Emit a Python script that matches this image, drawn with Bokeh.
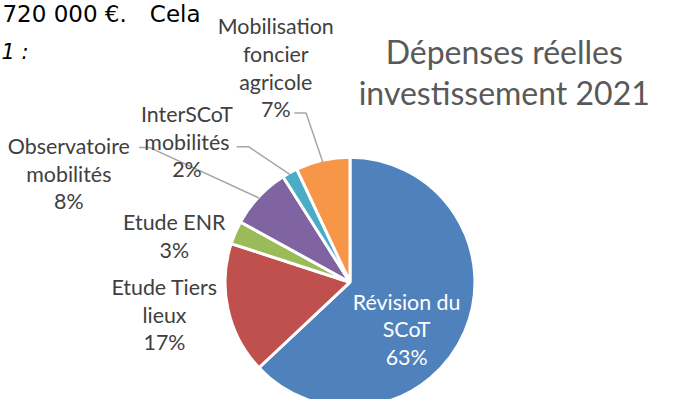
import numpy as np
from bokeh.plotting import figure
from bokeh.models import Range1d, ColumnDataSource
from bokeh.core.properties import value
from bokeh.embed import file_html
from bokeh.resources import INLINE

# ---- data ----
categories = ["Révision du SCoT", "Etude Tiers lieux", "Etude ENR",
              "Observatoire mobilités", "InterSCoT mobilités",
              "Mobilisation foncier agricole"]
label_names = ["Révision du\nSCoT", "Etude Tiers\nlieux", "Etude ENR",
               "Observatoire\nmobilités", "InterSCoT\nmobilités",
               "Mobilisation\nfoncier\nagricole"]
shares = [63, 17, 3, 8, 2, 7]
colors = ["#4F81BD", "#C0504D", "#9BBB59", "#8064A2", "#4BACC6", "#F79646"]
title_text = "Dépenses réelles\ninvestissement 2021"

# ---- layout: a 673x415 design frame drawn into a 657x399 plot ----
W, H = 657, 399
FW, FH = 673, 415
cx, cy, R = 358, 293, 128
label_pos = [(416, 342), (168, 327), (178, 245), (70, 180), (191, 147), (282, 70)]
label_col = ["white", "#404040", "#404040", "#404040", "#404040", "#404040"]
# leader lines: (start, elbow) per slice index
leaders = {5: [(301, 117), (313, 117)],
           4: [(242, 152), (254, 152)],
           3: [(142, 153), (153, 153)]}

p = figure(width=W, height=H, output_backend="svg", toolbar_location=None,
           x_range=Range1d(0, FW), y_range=Range1d(-FH, 0),
           x_axis_type=None, y_axis_type=None, min_border=0)
p.grid.visible = False
p.outline_line_color = None
p.background_fill_color = "white"

vals = np.array(shares, dtype=float)
frac = vals / vals.sum()
cum = np.concatenate([[0], np.cumsum(frac)])
start_cw = np.pi / 2 - 2 * np.pi * cum[:-1]
end_cw = np.pi / 2 - 2 * np.pi * cum[1:]

src = ColumnDataSource(dict(cat=categories, val=shares, color=colors,
                            start=end_cw, end=start_cw))
p.wedge(x=cx, y=-cy, radius=R, start_angle="start", end_angle="end",
        fill_color="color", line_color="white", line_width=3, source=src)

# leader lines
mid = (start_cw + end_cw) / 2
for i, pts in leaders.items():
    ex = cx + R * np.cos(mid[i])
    ey = cy - R * np.sin(mid[i])
    xs = [q[0] for q in pts] + [ex]
    ys = [-q[1] for q in pts] + [-ey]
    p.line(xs, ys, line_color="#A6A6A6", line_width=1.5)

# data labels
labels = [f"{n}\n{v}%" for n, v in zip(label_names, shares)]
lsrc = ColumnDataSource(dict(x=[q[0] for q in label_pos],
                             y=[-q[1] for q in label_pos],
                             t=labels, c=label_col))
p.text(x="x", y="y", text="t", text_color="c", source=lsrc,
       text_font=value("Lato"), text_font_size="21.4px",
       text_align="center", text_baseline="middle", text_line_height=1.06)

# title
p.text(x=[516], y=[-74], text=[title_text], text_color="#595959",
       text_font=value("Lato"), text_font_size="32px",
       text_align="center", text_baseline="middle", text_line_height=1.05)

# fragments of the surrounding document
p.text(x=[2], y=[-14], text=["720 000 €."], text_color="black",
       text_font=value("DejaVu Sans"), text_font_size="23px",
       text_align="left", text_baseline="middle")
p.text(x=[153], y=[-14], text=["Cela"], text_color="black",
       text_font=value("DejaVu Sans"), text_font_size="23px",
       text_align="left", text_baseline="middle")
p.text(x=[1], y=[-54], text=["1 :"], text_color="black",
       text_font=value("DejaVu Sans"), text_font_size="21px",
       text_font_style="italic", text_align="left", text_baseline="middle")

open("out.html", "w").write(file_html(p, INLINE))
